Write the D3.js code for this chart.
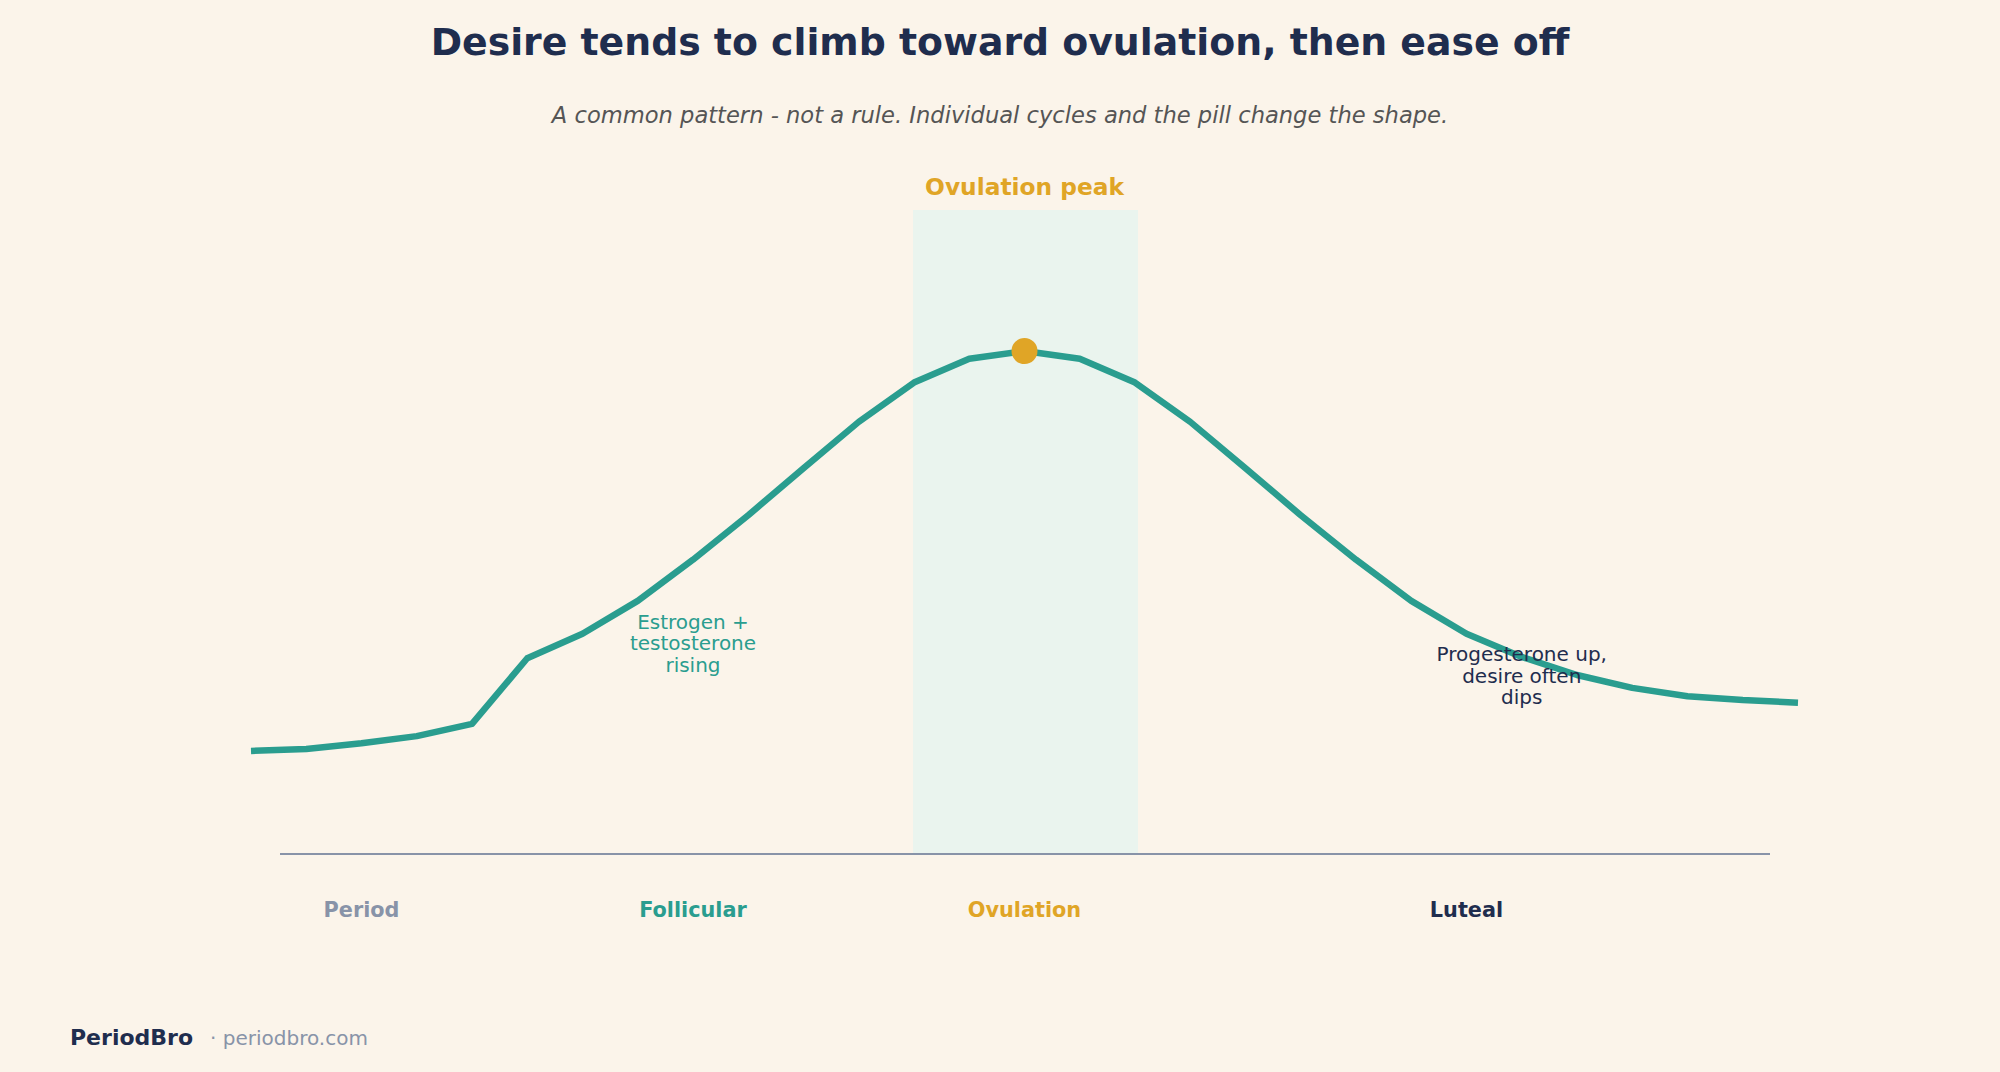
<!DOCTYPE html>
<html>
<head>
<meta charset="utf-8">
<script src="https://cdn.jsdelivr.net/npm/d3@7"></script>
<style>
  html, body { margin: 0; padding: 0; background: #FBF4EA; }
  svg { display: block; }
  text { font-family: "DejaVu Sans", sans-serif; }
</style>
</head>
<body>
<svg id="chart" width="2000" height="1072"></svg>
<script>
// ---------- data ----------
const days = [0,1,2,3,4,5,6,7,8,9,10,11,12,13,14,15,16,17,18,19,20,21,22,23,24,25,26,27,28];
const desire = [16.0,16.3,17.2,18.3,20.2,30.4,34.2,39.3,45.7,52.6,59.9,67.1,73.2,76.9,78.1,76.9,73.2,67.1,59.9,52.6,45.7,39.3,34.2,30.6,27.8,25.8,24.5,23.9,23.5];
const phaseNames = ["Period","Follicular","Ovulation","Luteal"];
const phaseStart = [0,4,12,16];
const phaseEnd = [4,12,16,28];
const phaseColors = ["#8893A8","#2A9D8F","#E0A526","#1F2D4E"];
const ovulationBand = [12,16];
const peakDay = 14;
const annotationLines = [["Estrogen +","testosterone","rising"],["Progesterone up,","desire often","dips"]];
const annotationDay = [8,23];
const annotationValue = [35,30];
const annotationColors = ["#2A9D8F","#1F2D4E"];
const titleText = "Desire tends to climb toward ovulation, then ease off";
const subtitleText = "A common pattern - not a rule. Individual cycles and the pill change the shape.";

// ---------- layout ----------
const W = 2000, H = 1072;
const svg = d3.select("#chart");
svg.append("rect").attr("width", W).attr("height", H).attr("fill", "#FBF4EA");

const x = d3.scaleLinear().domain([0, 28]).range([251, 1798]);
const y = d3.scaleLinear().domain([0, 100]).range([854, 210]);

// title + subtitle
svg.append("text").attr("x", W/2).attr("y", 55).attr("text-anchor","middle")
  .attr("font-size", 37.8).attr("font-weight","bold").attr("fill","#1F2D4E").text(titleText);
svg.append("text").attr("x", W/2).attr("y", 123).attr("text-anchor","middle")
  .attr("font-size", 22.6).attr("font-style","italic").attr("fill","#555555").text(subtitleText);

// ovulation band
svg.append("rect")
  .attr("x", x(ovulationBand[0]) - 1).attr("y", y(100))
  .attr("width", x(ovulationBand[1]) - x(ovulationBand[0]) + 4)
  .attr("height", y(0) - y(100))
  .attr("fill", "#EAF4EE");

svg.append("text").attr("x", x(peakDay)).attr("y", y(100) - 15).attr("text-anchor","middle")
  .attr("font-size", 23.3).attr("font-weight","bold").attr("fill","#E0A526").text("Ovulation peak");

// baseline axis line
svg.append("line")
  .attr("x1", x(0) + 29).attr("x2", x(28) - 28)
  .attr("y1", y(0)).attr("y2", y(0))
  .attr("stroke", "#8893A8").attr("stroke-width", 2);

// phase labels
phaseNames.forEach((p, i) => {
  svg.append("text")
    .attr("x", x((phaseStart[i] + phaseEnd[i]) / 2))
    .attr("y", y(0) + 63)
    .attr("text-anchor","middle").attr("font-size", 20.8).attr("font-weight","bold")
    .attr("fill", phaseColors[i]).text(p);
});

// line
const line = d3.line().x((d, i) => x(days[i])).y(d => y(d)).curve(d3.curveLinear);
svg.append("path").datum(desire)
  .attr("d", line).attr("fill","none").attr("stroke","#2A9D8F")
  .attr("stroke-width", 6.5).attr("stroke-linejoin","round");

// peak dot
svg.append("circle").attr("cx", x(peakDay)).attr("cy", y(desire[days.indexOf(peakDay)]))
  .attr("r", 13).attr("fill", "#E0A526");

// annotations
annotationLines.forEach((lines, i) => {
  const t = svg.append("text")
    .attr("x", x(annotationDay[i])).attr("y", y(annotationValue[i]))
    .attr("text-anchor","middle").attr("font-size", 20).attr("fill", annotationColors[i]);
  lines.forEach((l, j) => {
    t.append("tspan").attr("x", x(annotationDay[i])).attr("dy", j === 0 ? 0 : 21.7).text(l);
  });
});

// footer
const foot = svg.append("text").attr("x", 70).attr("y", 1045);
foot.append("tspan").attr("font-size", 22).attr("font-weight","bold").attr("fill","#1F2D4E").text("PeriodBro");
foot.append("tspan").attr("dx", 17).attr("font-size", 20).attr("fill","#8893A8").text("· periodbro.com");
</script>
</body>
</html>
